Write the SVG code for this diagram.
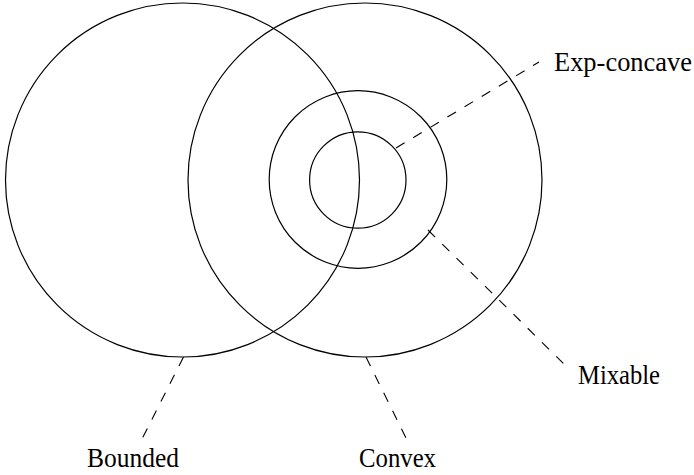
<svg xmlns="http://www.w3.org/2000/svg" width="694" height="475" viewBox="0 0 694 475">
<style>
.c{fill:none;stroke:#000;stroke-width:1.2}
.d{fill:none;stroke:#000;stroke-width:1.1;stroke-dasharray:10 10}
.t{font-family:"Liberation Serif","Times New Roman",serif;font-size:27px;fill:#000}
</style>
<rect width="694" height="475" fill="#fff"/>
<g id="bounded"><circle class="c" cx="182.5" cy="180" r="177"/></g>
<g id="convex"><circle class="c" cx="365" cy="180" r="177"/></g>
<g id="mixable"><circle class="c" cx="358" cy="179.5" r="88.8"/></g>
<g id="expconcave"><circle class="c" cx="357.8" cy="180" r="48.2"/></g>
<g id="connectors">
<line class="d" x1="396" y1="148" x2="539" y2="62"/>
<line class="d" x1="428" y1="230" x2="564" y2="364"/>
<line class="d" x1="183.5" y1="357" x2="142.5" y2="438"/>
<line class="d" x1="366" y1="357" x2="406.5" y2="439"/>
</g>
<g id="labels">
<text class="t" x="554" y="71" textLength="138" lengthAdjust="spacingAndGlyphs">Exp-concave</text>
<text class="t" x="578" y="383.5" textLength="82" lengthAdjust="spacingAndGlyphs">Mixable</text>
<text class="t" x="87" y="467" textLength="92" lengthAdjust="spacingAndGlyphs">Bounded</text>
<text class="t" x="359" y="467" textLength="77" lengthAdjust="spacingAndGlyphs">Convex</text>
</g>
</svg>
